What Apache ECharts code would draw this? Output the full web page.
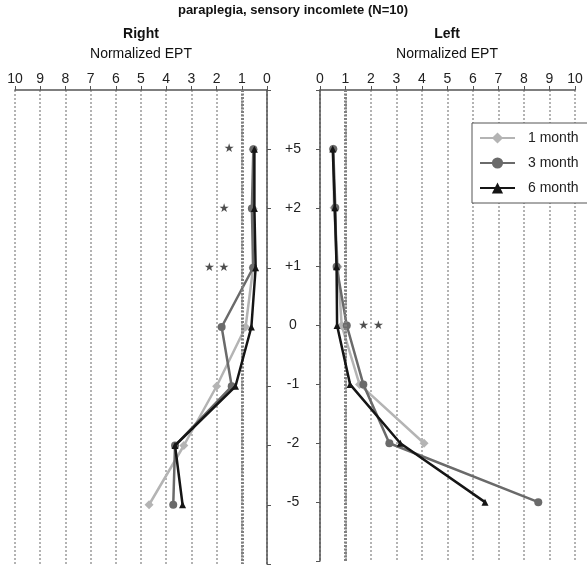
<!DOCTYPE html>
<html>
<head>
<meta charset="utf-8">
<script src="https://cdn.jsdelivr.net/npm/echarts@6/dist/echarts.min.js"></script>
<style>
    html, body { margin: 0; padding: 0; background: #fff; }
    #main { width: 587px; height: 568px; }
</style>
</head>
<body>
<div id="main"></div>
<script>
// dermatome levels, top to bottom
var levels = ['+5', '+2', '+1', '0', '-1', '-2', '-5'];
var seriesNames = ['1 month', '3 month', '6 month'];

// normalized EPT, right side
var right1m = [0.55, 0.55, 0.55, 0.85, 2.0, 3.3, 4.68];
var right3m = [0.54, 0.6, 0.55, 1.8, 1.4, 3.65, 3.72];
var right6m = [0.5, 0.5, 0.45, 0.62, 1.25, 3.65, 3.35];

// normalized EPT, left side
var left1m = [0.52, 0.55, 0.7, 0.85, 1.55, 4.08, null];
var left3m = [0.52, 0.6, 0.65, 1.05, 1.7, 2.72, 8.56];
var left6m = [0.5, 0.58, 0.65, 0.67, 1.18, 3.15, 6.47];

// significance marks [x, level, text]
var rightStars = [[1.5, '+5', '★'], [1.7, '+2', '★'], [2.0, '+1', '★ ★']];
var leftStars = [[2.0, '0', '★ ★']];

var font = 'Liberation Sans, Arial, sans-serif';
var yCats = [''].concat(levels, [' ']);
var colors = ['#b4b4b4', '#6a6a6a', '#151515'];
var symbols = ['diamond', 'circle', 'triangle'];
var symbolSizes = [9, 8, 7];

function pairs(vals) {
    var out = [];
    for (var i = 0; i < vals.length; i++) {
        if (vals[i] !== null) out.push([vals[i], levels[i]]);
    }
    return out;
}

function lineSeries(idx, panel, vals) {
    var s = {
        name: seriesNames[idx],
        type: 'line',
        xAxisIndex: panel,
        yAxisIndex: panel,
        data: pairs(vals),
        symbol: symbols[idx],
        symbolSize: symbolSizes[idx],
        color: colors[idx],
        lineStyle: { color: colors[idx], width: 2.5 },
        itemStyle: { color: colors[idx] },
        z: 3 + idx
    };
    if (idx === 0) {
        // reference line at normalized EPT = 1
        s.markLine = {
            silent: true,
            symbol: 'none',
            label: { show: false },
            lineStyle: { color: '#808080', type: [2, 1.5], width: 3 },
            data: [{ xAxis: 1 }]
        };
    }
    return s;
}

function starSeries(panel, data) {
    return {
        type: 'scatter',
        xAxisIndex: panel,
        yAxisIndex: panel,
        data: data,
        symbolSize: 0,
        silent: true,
        label: {
            show: true,
            position: 'inside',
            fontSize: 12,
            color: '#222',
            fontFamily: 'DejaVu Sans',
            formatter: function (p) { return p.value[2]; }
        }
    };
}

function xAxisOf(panel, inverse) {
    return {
        type: 'value',
        gridIndex: panel,
        position: 'top',
        inverse: inverse,
        min: 0,
        max: 10,
        interval: 1,
        axisLine: { show: true, onZero: false, lineStyle: { color: '#555', width: 1.5 } },
        axisTick: { show: true, length: 4, lineStyle: { color: '#555' } },
        axisLabel: { color: '#222', fontSize: 14, margin: 4, fontFamily: font },
        splitLine: { show: true, lineStyle: { color: '#9a9a9a', type: [2, 2], width: 1.5 } }
    };
}

function yAxisOf(panel, pos, showLabels) {
    return {
        type: 'category',
        gridIndex: panel,
        position: pos,
        inverse: true,
        boundaryGap: false,
        data: yCats,
        axisLine: { show: true, onZero: false, lineStyle: { color: '#555', width: 1.5 } },
        axisTick: { show: true, length: 4, lineStyle: { color: '#555' } },
        axisLabel: {
            show: showLabels,
            interval: 0,
            align: 'center',
            margin: 27,
            color: '#222',
            fontSize: 14,
            fontFamily: font
        },
        splitLine: { show: false }
    };
}

function header(text, x, y, size, bold) {
    return {
        type: 'text',
        x: x,
        y: y,
        style: {
            text: text,
            fill: '#111',
            fontSize: size,
            fontWeight: bold ? 'bold' : 'normal',
            fontFamily: font,
            align: 'center',
            verticalAlign: 'middle'
        }
    };
}

var chart = echarts.init(document.getElementById('main'), null, { renderer: 'canvas' });
chart.setOption({
    animation: false,
    backgroundColor: '#fff',
    textStyle: { fontFamily: font },
    graphic: [
        header('paraplegia, sensory incomlete (N=10)', 293, 10, 13, true),
        header('Right', 141, 34, 14, true),
        header('Normalized EPT', 141, 54, 14, false),
        header('Left', 447, 34, 14, true),
        header('Normalized EPT', 447, 54, 14, false)
    ],
    grid: [
        { left: 15, top: 90, width: 252, bottom: 4 },
        { left: 320, top: 90, width: 255, bottom: 4 }
    ],
    xAxis: [xAxisOf(0, true), xAxisOf(1, false)],
    yAxis: [yAxisOf(0, 'right', false), yAxisOf(1, 'left', true)],
    legend: {
        data: seriesNames,
        orient: 'vertical',
        left: 472,
        top: 123,
        padding: [8, 60, 8, 7],
        itemWidth: 35,
        itemHeight: 14,
        itemGap: 11,
        borderColor: '#555',
        borderWidth: 1,
        backgroundColor: '#fff',
        textStyle: { fontSize: 14, color: '#222', fontFamily: font, padding: [0, 0, 0, 8] }
    },
    series: [
        lineSeries(0, 0, right1m),
        lineSeries(1, 0, right3m),
        lineSeries(2, 0, right6m),
        lineSeries(0, 1, left1m),
        lineSeries(1, 1, left3m),
        lineSeries(2, 1, left6m),
        starSeries(0, rightStars),
        starSeries(1, leftStars)
    ]
});
</script>
</body>
</html>
